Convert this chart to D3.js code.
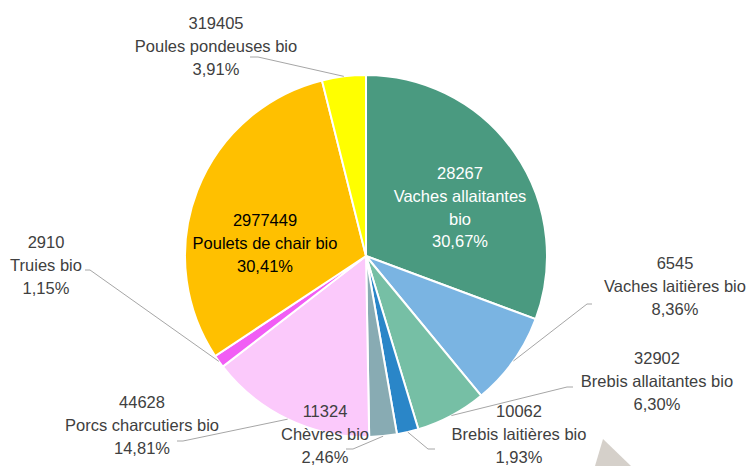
<!DOCTYPE html>
<html>
<head>
<meta charset="UTF-8">
<title>Cheptel bio</title>
<script src="https://cdnjs.cloudflare.com/ajax/libs/d3/7.8.5/d3.min.js"></script>
<style>
body { margin: 0; background: #fff; }
svg { display: block; }
.lbl { font-family: "Liberation Sans", Arial, sans-serif; font-size: 16.5px; fill: #404040; }
.leader { fill: none; stroke: #a6a6a6; stroke-width: 1; }
</style>
</head>
<body>
<script>
// données
var categories = ["Vaches allaitantes bio", "Vaches laitières bio", "Brebis allaitantes bio",
  "Brebis laitières bio", "Chèvres bio", "Porcs charcutiers bio", "Truies bio",
  "Poulets de chair bio", "Poules pondeuses bio"];
var counts = [28267, 6545, 32902, 10062, 11324, 44628, 2910, 2977449, 319405];
var percents = [30.67, 8.36, 6.30, 1.93, 2.46, 14.81, 1.15, 30.41, 3.91];
var colors = ["#4a9a80", "#7ab4e2", "#76bfa5", "#2a86c8", "#88abb3", "#fbc9fb", "#f15df5", "#ffc000", "#ffff00"];

// mise en page des étiquettes (centre de la 1re ligne, départ du trait)
var labelLayout = [
  {x: 460, y: 173, fill: "#fff", lines: ["28267", "Vaches allaitantes", "bio", "30,67%"]},
  {x: 675, y: 263, lead: [[592, 304], [587, 304]]},
  {x: 657, y: 358, lead: [[573, 387], [567, 387]]},
  {x: 519, y: 411, lead: [[435, 449], [428, 449]]},
  {x: 325, y: 411, lead: [[346, 449], [353, 449]]},
  {x: 142, y: 402, lead: [[177, 441], [183, 441]]},
  {x: 46,  y: 242, lead: [[85, 270], [90, 270]]},
  {x: 265, y: 220, fill: "#000"},
  {x: 216, y: 23,  lead: [[250, 57], [258, 57]]}
];

var width = 750, height = 466;
var cx = 366, cy = 256, r = 181;

var svg = d3.select("body").append("svg")
    .attr("width", width)
    .attr("height", height);

// triangle décoratif en bas
svg.append("polygon")
    .attr("points", "603,439 631,466 595,466")
    .attr("fill", "#d5d0ca");

var data = categories.map(function(c, i) {
  return {name: c, count: counts[i], pct: percents[i], color: colors[i]};
});

var pie = d3.pie().sort(null).value(function(d) { return d.pct; });
var arcs = pie(data);

var arc = d3.arc().innerRadius(0).outerRadius(r);
var edge = d3.arc().innerRadius(r).outerRadius(r);

var g = svg.append("g").attr("transform", "translate(" + cx + "," + cy + ")");

g.selectAll("path.slice")
    .data(arcs)
  .enter().append("path")
    .attr("class", "slice")
    .attr("d", arc)
    .attr("fill", function(d) { return d.data.color; })
    .attr("stroke", "#fff")
    .attr("stroke-width", 2);

// traits de rappel
arcs.forEach(function(d, i) {
  var L = labelLayout[i];
  if (!L.lead) return;
  var e = edge.centroid(d);
  var pts = L.lead.concat([[cx + e[0], cy + e[1]]]);
  svg.append("path")
      .attr("class", "leader")
      .attr("d", d3.line()(pts));
});

// étiquettes
var fmtPct = function(v) { return v.toFixed(2).replace(".", ","); };
arcs.forEach(function(d, i) {
  var L = labelLayout[i];
  var lines = L.lines || [String(d.data.count), d.data.name, fmtPct(d.data.pct) + "%"];
  var t = svg.append("text")
      .attr("class", "lbl")
      .attr("text-anchor", "middle")
      .style("fill", L.fill || "#404040");
  lines.forEach(function(s, k) {
    t.append("tspan")
        .attr("x", L.x)
        .attr("y", L.y + k * 22.8)
        .attr("dy", "0.36em")
        .text(s);
  });
});
</script>
</body>
</html>
